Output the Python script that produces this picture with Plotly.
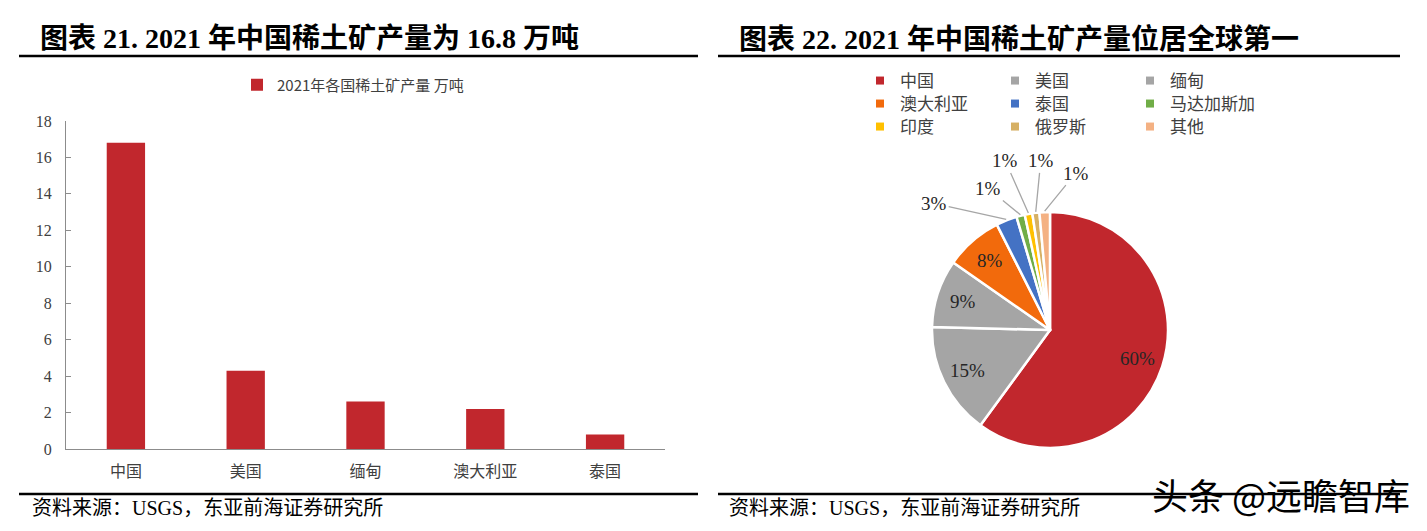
import math
import plotly.graph_objects as go

W, H = 1427, 531
OFF = 8  # page body margin offset

# ---------------- data ----------------
bar_categories = ['中国', '美国', '缅甸', '澳大利亚', '泰国']
bar_values = [16.8, 4.3, 2.6, 2.2, 0.8]
bar_series_name = '2021年各国稀土矿产量 万吨'
y_tick_values = [0, 2, 4, 6, 8, 10, 12, 14, 16, 18]

pie_labels = ['中国', '美国', '缅甸', '澳大利亚', '泰国', '马达加斯加', '印度', '俄罗斯', '其他']
pie_values = [16.8, 4.3, 2.6, 2.2, 0.8, 0.32, 0.29, 0.27, 0.40]
pie_colors = ['#C1272D', '#A5A5A5', '#A5A5A5', '#F26A0C', '#4472C4',
              '#70AD47', '#FFC000', '#D6B064', '#F4B183']
legend_rows = [[0, 1, 2], [3, 4, 5], [6, 7, 8]]

title_left = '图表 21. 2021 年中国稀土矿产量为 16.8 万吨'
title_right = '图表 22. 2021 年中国稀土矿产量位居全球第一'
source_text = '资料来源：USGS，东亚前海证券研究所'
watermark = '头条 @远瞻智库'

# ---------------- style / layout ----------------
BAR_RED = '#C1272D'
SERIF = 'Liberation Serif, Noto Sans CJK SC, serif'
CJK = 'Noto Sans CJK SC, sans-serif'
TXT = '#404040'
N_INSIDE = 4           # slices labelled inside the pie
INSIDE_R_FRAC = 0.78   # radius fraction for inside labels
# pixel offsets of outside labels from their slice edge (label placement)
outside_label_offsets = {4: (-72, -16), 5: (-32, -26), 6: (-23, -52), 7: (5, -51), 8: (31, -38)}

PIE_CX, PIE_CY, PIE_R = 1050, 330, 118


def px(x):
    return (x - OFF) / W


def py(y):
    return 1 - (y - OFF) / H


fig = go.Figure()

fig.add_trace(go.Bar(
    x=bar_categories, y=bar_values, name=bar_series_name,
    marker=dict(color=BAR_RED, line=dict(width=0)),
    width=0.32, showlegend=True, legend='legend',
    xaxis='x', yaxis='y',
))

fig.add_trace(go.Pie(
    labels=pie_labels, values=pie_values, sort=False, direction='clockwise',
    rotation=0, marker=dict(colors=pie_colors, line=dict(color='white', width=2.5)),
    textinfo='none',
    domain=dict(x=[px(PIE_CX - PIE_R), px(PIE_CX + PIE_R)],
                y=[py(PIE_CY + PIE_R), py(PIE_CY - PIE_R)]),
    showlegend=False, hoverinfo='label+percent',
))

# percentage labels (angles derived from values)
total = sum(pie_values)
cum = 0.0
for i, v in enumerate(pie_values):
    mid = (cum + v / 2) / total * 2 * math.pi
    cum += v
    pct = f'{round(v / total * 100)}%'
    font = dict(family=SERIF, size=19, color='#262626')
    if i < N_INSIDE:
        rr = PIE_R * INSIDE_R_FRAC
        fig.add_annotation(
            x=px(PIE_CX + rr * math.sin(mid)), y=py(PIE_CY - rr * math.cos(mid)),
            xref='paper', yref='paper', text=pct, showarrow=False,
            xanchor='center', yanchor='middle', font=font)
    else:
        ex = PIE_CX + (PIE_R + 1) * math.sin(mid)
        ey = PIE_CY - (PIE_R + 1) * math.cos(mid)
        dx, dy = outside_label_offsets[i]
        fig.add_annotation(
            x=px(ex), y=py(ey), xref='paper', yref='paper',
            text=pct, showarrow=True, arrowhead=0,
            arrowcolor='#A6A6A6', arrowwidth=1.3, ax=dx, ay=dy, standoff=0,
            font=font)

legend_names = ['legend2', 'legend3', 'legend4']
for row_i, row in enumerate(legend_rows):
    for idx in row:
        fig.add_trace(go.Scatter(
            x=[None], y=[None], mode='markers', name=pie_labels[idx],
            marker=dict(symbol='square', size=8, color=pie_colors[idx]),
            legend=legend_names[row_i], showlegend=True,
            xaxis='x', yaxis='y', hoverinfo='skip',
        ))

legend_common = dict(orientation='h', bgcolor='rgba(0,0,0,0)', borderwidth=0,
                     itemwidth=30, xanchor='left', yanchor='middle',
                     itemclick=False, itemdoubleclick=False)

layout = dict(
    width=W, height=H,
    margin=dict(l=0, r=0, t=0, b=0, autoexpand=False),
    paper_bgcolor='white', plot_bgcolor='white',
    xaxis=dict(domain=[px(66), px(665)], range=[-0.5, 4.5], type='category',
               showline=True, linecolor='#8C8C8C', linewidth=1.3,
               ticks='', showgrid=False, zeroline=False, automargin=False,
               tickfont=dict(family=CJK, size=16, color=TXT),
               ticklabelstandoff=8, fixedrange=True),
    yaxis=dict(domain=[py(449), py(121)], range=[0, 18], tickvals=y_tick_values,
               showline=True, linecolor='#8C8C8C', linewidth=1.3,
               ticks='inside', ticklen=5, tickcolor='#8C8C8C',
               showgrid=False, zeroline=False, automargin=False,
               tickfont=dict(family=SERIF, size=16, color=TXT),
               ticklabelstandoff=10, fixedrange=True),
    legend=dict(x=px(237), y=py(85), font=dict(family=CJK, size=15, color=TXT),
                **legend_common),
    showlegend=True,
)
for row_i, name in enumerate(legend_names):
    layout[name] = dict(x=px(860), y=py(81 + 23 * row_i),
                        font=dict(family=CJK, size=17, color=TXT),
                        entrywidth=90, **legend_common)

fig.update_layout(**layout)

# titles
for txt, x0 in [(title_left, 38), (title_right, 737)]:
    fig.add_annotation(text=txt, x=px(x0), y=py(39), xref='paper', yref='paper',
                       xanchor='left', yanchor='middle', showarrow=False,
                       font=dict(family=SERIF, size=28, color='black', weight='bold'))
# sources
for x0 in [30, 727]:
    fig.add_annotation(text=source_text, x=px(x0), y=py(508), xref='paper', yref='paper',
                       xanchor='left', yanchor='middle', showarrow=False,
                       font=dict(family=SERIF, size=20, color='black'))

# rules under titles and above sources
for (x0, x1) in [(19, 698), (718, 1400)]:
    for yy in [56, 494]:
        fig.add_shape(type='line', xref='paper', yref='paper',
                      x0=px(x0), x1=px(x1), y0=py(yy), y1=py(yy),
                      line=dict(color='black', width=2.5))

fig.add_annotation(text=watermark, x=px(1412), y=py(494), xref='paper', yref='paper',
                   xanchor='right', yanchor='middle', showarrow=False,
                   font=dict(family=CJK, size=36, color='black'))

fig.write_html('out.html')
